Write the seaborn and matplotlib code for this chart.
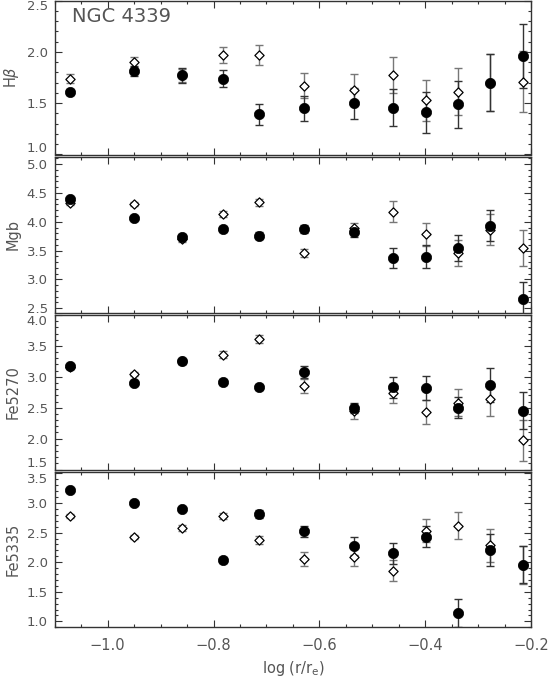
import numpy as np
import pandas as pd
import matplotlib
matplotlib.use("Agg")
import matplotlib.pyplot as plt
from matplotlib.ticker import MultipleLocator
import seaborn as sns

# ---------------- data ----------------
logr = [-1.071, -0.951, -0.859, -0.782, -0.715, -0.629, -0.534, -0.461, -0.399, -0.339, -0.278, -0.216]

hb_filled = [1.61, 1.81, 1.77, 1.74, 1.39, 1.45, 1.50, 1.455, 1.41, 1.49, 1.70, 1.96]
hb_filled_err = [0.03, 0.05, 0.07, 0.08, 0.10, 0.12, 0.15, 0.18, 0.20, 0.23, 0.28, 0.31]
hb_open = [1.74, 1.90, 1.77, 1.97, 1.97, 1.67, 1.63, 1.77, 1.53, 1.61, 1.70, 1.71]
hb_open_err = [0.04, 0.05, 0.06, 0.08, 0.10, 0.12, 0.15, 0.175, 0.20, 0.23, 0.28, 0.30]

mgb_filled = [4.39, 4.07, 3.74, 3.875, 3.76, 3.88, 3.82, 3.37, 3.39, 3.545, 3.93, 2.65]
mgb_filled_err = [0.03, 0.03, 0.05, 0.05, 0.06, 0.07, 0.08, 0.18, 0.20, 0.23, 0.27, 0.31]
mgb_open = [4.32, 4.31, 3.70, 4.14, 4.335, 3.455, 3.886, 4.176, 3.78, 3.455, 3.86, 3.545]
mgb_open_err = [0.03, 0.03, 0.05, 0.05, 0.06, 0.07, 0.10, 0.18, 0.20, 0.22, 0.27, 0.31]

fe5270_filled = [3.18, 2.90, 3.25, 2.92, 2.83, 3.08, 2.49, 2.83, 2.82, 2.50, 2.865, 2.45]
fe5270_filled_err = [0.03, 0.03, 0.04, 0.05, 0.05, 0.10, 0.08, 0.17, 0.20, 0.17, 0.27, 0.30]
fe5270_open = [3.16, 3.05, 3.25, 3.36, 3.61, 2.85, 2.44, 2.73, 2.43, 2.58, 2.64, 1.97]
fe5270_open_err = [0.03, 0.03, 0.04, 0.05, 0.06, 0.11, 0.12, 0.16, 0.20, 0.22, 0.27, 0.33]

fe5335_filled = [3.22, 3.00, 2.90, 2.04, 2.82, 2.52, 2.27, 2.15, 2.43, 1.14, 2.21, 1.96]
fe5335_filled_err = [0.03, 0.03, 0.04, 0.05, 0.07, 0.10, 0.15, 0.18, 0.18, 0.23, 0.27, 0.31]
fe5335_open = [2.78, 2.43, 2.575, 2.78, 2.37, 2.05, 2.09, 1.86, 2.535, 2.62, 2.29, 1.95]
fe5335_open_err = [0.03, 0.03, 0.05, 0.05, 0.07, 0.12, 0.15, 0.17, 0.20, 0.23, 0.28, 0.32]

panel_labels = ["H$\\beta$", "Mgb", "Fe5270", "Fe5335"]
title_text = "NGC 4339"
xlabel_text = "log (r/r$_\\mathrm{e}$)"

# ---------------- style ----------------
sns.set_theme(style="ticks")
plt.rcParams["font.family"] = ["DejaVu Sans"]
plt.rcParams["mathtext.fontset"] = "dejavusans"
TXT = "#555555"
EDGE = "#333333"

W, H = 549, 678
fig = plt.figure(figsize=(W / 100, H / 100), dpi=100)

left_px, right_px = 54.6, 531.3
panels_px = [(0.5, 154.5), (156.7, 312.7), (315.0, 469.5), (472.3, 627.3)]
ylims = [(1.0, 2.5), (2.42, 5.13), (1.5, 4.0), (0.9, 3.52)]

series = [
    (hb_filled, hb_filled_err, hb_open, hb_open_err),
    (mgb_filled, mgb_filled_err, mgb_open, mgb_open_err),
    (fe5270_filled, fe5270_filled_err, fe5270_open, fe5270_open_err),
    (fe5335_filled, fe5335_filled_err, fe5335_open, fe5335_open_err),
]

axes = []
for i, ((top, bot), ylim, (yf, ef, yo, eo)) in enumerate(zip(panels_px, ylims, series)):
    ax = fig.add_axes([left_px / W, 1 - bot / H, (right_px - left_px) / W, (bot - top) / H])
    axes.append(ax)
    df = pd.DataFrame({"x": logr, "filled": yf, "efilled": ef, "open": yo, "eopen": eo})

    ax.errorbar(df["x"], df["open"], yerr=df["eopen"], fmt="none", ecolor="#777777",
                elinewidth=1.0, capsize=3.2, capthick=1.0, zorder=2)
    ax.errorbar(df["x"], df["filled"], yerr=df["efilled"], fmt="none", ecolor="#333333",
                elinewidth=1.0, capsize=3.2, capthick=1.0, zorder=2)
    sns.scatterplot(data=df, x="x", y="open", ax=ax, marker="D", s=22,
                    facecolor="white", edgecolor="black", linewidth=0.9, zorder=3)
    sns.scatterplot(data=df, x="x", y="filled", ax=ax, marker="o", s=55,
                    color="black", edgecolor="black", linewidth=0.5, zorder=4)

    ax.set_xlim(-1.1, -0.2)
    ax.set_ylim(*ylim)
    ax.xaxis.set_major_locator(MultipleLocator(0.2))
    ax.xaxis.set_minor_locator(MultipleLocator(0.05))
    ax.yaxis.set_major_locator(MultipleLocator(0.5))
    ax.yaxis.set_minor_locator(MultipleLocator(0.1))
    ax.tick_params(which="both", direction="in", top=True, right=True,
                   colors=EDGE, labelcolor=TXT, labelsize=9.5, width=0.8)
    ax.tick_params(axis="x", labelsize=10.5)
    ax.tick_params(which="major", length=5)
    ax.tick_params(which="minor", length=2.5)
    ax.tick_params(axis="y", pad=5)
    ax.tick_params(axis="x", pad=8)
    for sp in ax.spines.values():
        sp.set_color(EDGE)
        sp.set_linewidth(1.0)
    ax.set_xlabel("")
    ax.set_ylabel(panel_labels[i], color=TXT, fontsize=10.5)
    ax.yaxis.set_label_coords((21 - left_px) / (right_px - left_px), 0.5)
    if i < 3:
        ax.tick_params(axis="x", labelbottom=False)

    # keep edge tick labels inside the panel
    fig.canvas.draw()
    lo, hi = ylim
    for tick in ax.yaxis.get_major_ticks():
        v = tick.get_loc()
        if abs(v - lo) < 0.03:
            tick.label1.set_va("bottom")
        elif abs(v - hi) < 0.03:
            tick.label1.set_va("top")

axes[0].text((72 - left_px) / (right_px - left_px), 1 - 21.5 / 154.0, title_text,
             transform=axes[0].transAxes, fontsize=14, color=TXT, va="baseline", ha="left")
axes[-1].set_xlabel(xlabel_text, color=TXT, fontsize=10.5, labelpad=4)

fig.savefig("out.png", dpi=100)
